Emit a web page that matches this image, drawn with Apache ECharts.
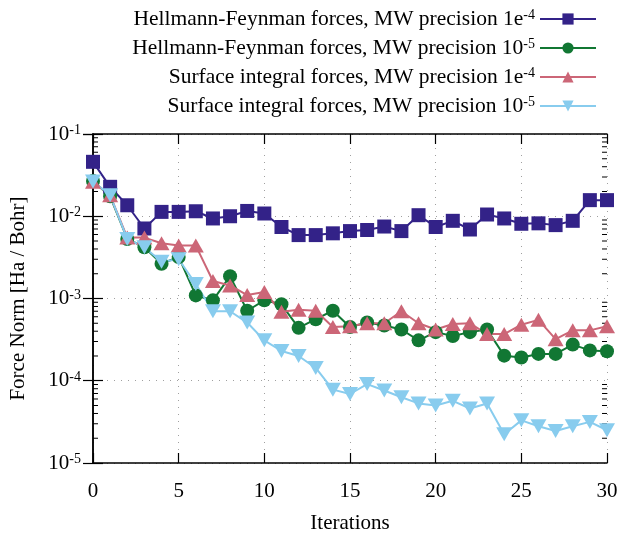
<!DOCTYPE html>
<html>
<head>
<meta charset="utf-8">
<script src="https://cdn.jsdelivr.net/npm/echarts@6/dist/echarts.min.js"></script>
<style>
  html, body { margin: 0; padding: 0; background: #fff; }
  #chart { width: 624px; height: 544px; }
</style>
</head>
<body>
<div id="chart"></div>
<script>
// iterations 0..30
var iterations = [0,1,2,3,4,5,6,7,8,9,10,11,12,13,14,15,16,17,18,19,20,21,22,23,24,25,26,27,28,29,30];

// Hellmann-Feynman, MW 1e-4
var hf4 = [0.0459,0.0228,0.0136,0.0071,0.0113,0.0113,0.0115,0.0094,0.0100,0.0116,0.0108,
           0.0074,0.0059,0.0059,0.0062,0.0066,0.0068,0.0075,0.0066,0.0103,0.0074,
           0.0088,0.0069,0.0105,0.0094,0.0081,0.0082,0.0078,0.0088,0.0157,0.0157];
// Hellmann-Feynman, MW 1e-5
var hf5 = [0.0269,0.0175,0.0053,0.0042,0.00265,0.0032,0.00109,0.00095,0.00187,0.00071,0.00095,
           0.00085,0.00044,0.00056,0.00071,0.00045,0.00051,0.00047,0.00042,0.00031,0.00039,
           0.00035,0.00039,0.00042,0.000202,0.000192,0.000212,0.000212,0.000275,0.000234,0.000228];
// Surface integral, MW 1e-4
var si4 = [0.0263,0.0180,0.0055,0.0055,0.0047,0.0044,0.0044,0.00163,0.00144,0.0011,0.0012,
           0.00069,0.00073,0.00071,0.00045,0.00046,0.00050,0.00050,0.00070,0.00050,0.00042,
           0.00049,0.00050,0.00037,0.00037,0.00048,0.00055,0.00032,0.00041,0.00041,0.00046];
// Surface integral, MW 1e-5
var si5 = [0.0265,0.0180,0.0053,0.0042,0.0028,0.0030,0.0015,0.00070,0.00070,0.00051,0.00031,
           0.00023,0.00020,0.000143,0.000078,0.000069,0.000091,0.000076,0.000063,0.000053,0.000050,
           0.000057,0.000046,0.000053,0.0000224,0.000033,0.000028,0.0000245,0.000028,0.0000316,0.000025];

var seriesNames = ['hf4', 'hf5', 'si4', 'si5'];
var legendLabels = {
  hf4: 'Hellmann-Feynman forces, MW precision 1e{sup|-4}',
  hf5: 'Hellmann-Feynman forces, MW precision 10{sup|-5}',
  si4: 'Surface integral forces, MW precision 1e{sup|-4}',
  si5: 'Surface integral forces, MW precision 10{sup|-5}'
};
var colors = ['#332288', '#117733', '#cc6677', '#88ccee'];
var symbols = ['rect', 'circle', 'triangle', 'path://M0,0 L10,0 L5,9 Z'];
var symbolSizes = [14, 14, [16, 14], [16, 14]];

// log minor tick mantissas and decades
var minorMantissa = [2,3,4,5,6,7,8,9];
var decades = [1e-5, 1e-4, 1e-3, 1e-2];

var FONT = '"Liberation Serif", "DejaVu Serif", serif';
var FS = 21;
var supStyle = { fontSize: 14, fontFamily: FONT, color: '#000', verticalAlign: 'top', lineHeight: 13 };

function pairs(arr) {
  var out = [];
  for (var i = 0; i < arr.length; i++) out.push([iterations[i], arr[i]]);
  return out;
}

var minorTicks = [];
for (var d = 0; d < decades.length; d++) {
  for (var m = 0; m < minorMantissa.length; m++) {
    minorTicks.push([0, minorMantissa[m] * decades[d]]);
  }
}

var dataSets = [hf4, hf5, si4, si5];
var series = [];
for (var i = 0; i < seriesNames.length; i++) {
  series.push({
    name: seriesNames[i],
    type: 'line',
    data: pairs(dataSets[i]),
    symbol: symbols[i],
    symbolSize: symbolSizes[i],
    showAllSymbol: true,
    lineStyle: { color: colors[i], width: 2 },
    itemStyle: { color: colors[i] },
    emphasis: { disabled: true },
    animation: false
  });
}

// minor ticks of the log axis, on both sides
series.push({
  type: 'custom',
  silent: true,
  animation: false,
  data: minorTicks,
  renderItem: function (params, api) {
    var v = api.value(1);
    var l = api.coord([0, v]);
    var r = api.coord([30, v]);
    return {
      type: 'group',
      children: [
        { type: 'line', shape: { x1: l[0], y1: l[1], x2: l[0] + 5, y2: l[1] }, style: { stroke: '#000', lineWidth: 1 } },
        { type: 'line', shape: { x1: r[0], y1: r[1], x2: r[0] - 5, y2: r[1] }, style: { stroke: '#000', lineWidth: 1 } }
      ]
    };
  }
});

var option = {
  backgroundColor: '#fff',
  animation: false,
  grid: { left: 92, right: 17, top: 134, bottom: 81, containLabel: false },
  legend: {
    data: seriesNames,
    orient: 'vertical',
    right: 22,
    top: 3,
    align: 'right',
    itemWidth: 56,
    itemHeight: 14,
    itemGap: 7,
    selectedMode: false,
    formatter: function (name) { return legendLabels[name]; },
    textStyle: {
      fontSize: 21.5, fontFamily: FONT, color: '#000',
      rich: { sup: supStyle }
    }
  },
  xAxis: [{
    type: 'value', min: 0, max: 30, interval: 5,
    name: 'Iterations', nameLocation: 'middle', nameGap: 50,
    nameTextStyle: { fontSize: FS, fontFamily: FONT, color: '#000' },
    axisLine: { lineStyle: { color: '#000', width: 1.5 } },
    axisTick: { inside: true, length: 10, lineStyle: { color: '#000', width: 1.2 } },
    axisLabel: { fontSize: FS, fontFamily: FONT, color: '#000', margin: 18 },
    splitLine: { show: true, lineStyle: { color: '#a0a0a0', type: [1, 6], width: 1 } }
  }, {
    type: 'value', min: 0, max: 30, interval: 5, position: 'top',
    axisLine: { lineStyle: { color: '#000', width: 1.5 } },
    axisTick: { inside: true, length: 10, lineStyle: { color: '#000', width: 1.2 } },
    axisLabel: { show: false },
    splitLine: { show: false }
  }],
  yAxis: [{
    type: 'log', logBase: 10, min: 1e-5, max: 1e-1,
    name: 'Force Norm [Ha / Bohr]', nameLocation: 'middle', nameGap: 64,
    nameTextStyle: { fontSize: FS, fontFamily: FONT, color: '#000' },
    axisLine: { show: true, lineStyle: { color: '#000', width: 1.5 } },
    axisTick: { inside: true, length: 10, lineStyle: { color: '#000', width: 1.2 } },
    axisLabel: {
      fontSize: FS, fontFamily: FONT, color: '#000', margin: 12,
      formatter: function (v) { return '10{sup|' + Math.round(Math.log10(v)) + '}'; },
      rich: { sup: supStyle }
    },
    splitLine: { show: true, lineStyle: { color: '#a0a0a0', type: [1, 6], width: 1 } }
  }, {
    type: 'log', logBase: 10, min: 1e-5, max: 1e-1, position: 'right',
    axisLine: { show: true, lineStyle: { color: '#000', width: 1.5 } },
    axisTick: { inside: true, length: 10, lineStyle: { color: '#000', width: 1.2 } },
    axisLabel: { show: false },
    splitLine: { show: false }
  }],
  series: series
};

var chart = echarts.init(document.getElementById('chart'));
chart.setOption(option);
</script>
</body>
</html>
